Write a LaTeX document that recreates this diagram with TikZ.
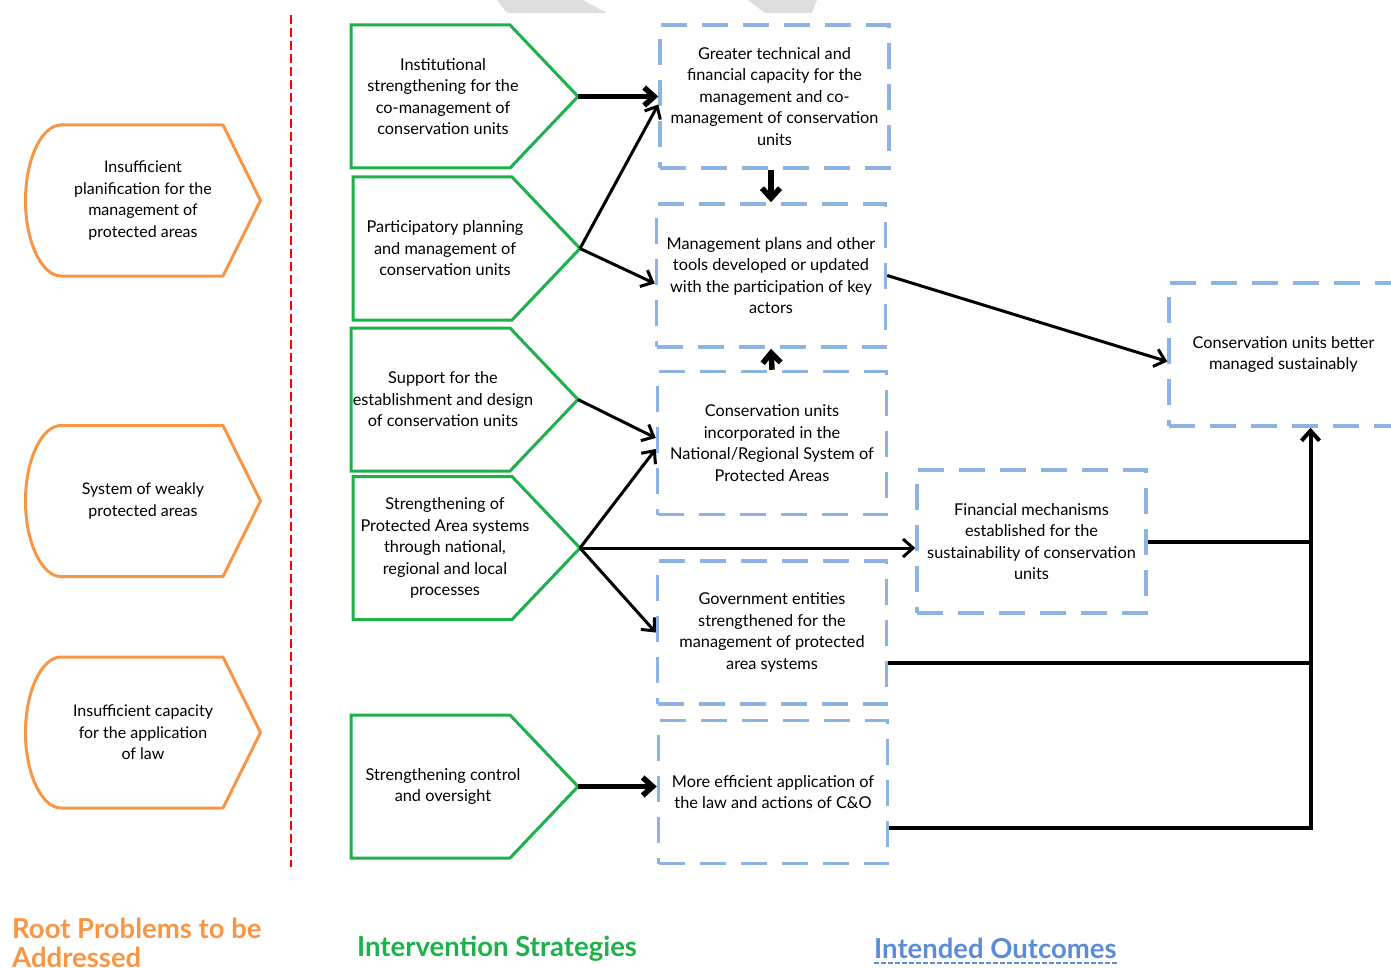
\documentclass[tikz,border=0pt]{standalone}
\usepackage{fontspec}
\setmainfont{Lato}
\usetikzlibrary{
	arrows.meta,
	calc,
	positioning
}
\definecolor{rootorange}{HTML}{F79646}
\definecolor{stratgreen}{HTML}{1DB04B}
\definecolor{outblue}{HTML}{8DB3E2}
\definecolor{titleblue}{HTML}{5A8DD8}
\definecolor{markgray}{HTML}{DEDEDE}

% contorno naranja: izquierda redonda, derecha en punta
\newcommand{\rootshape}[1]{%
\draw[rootline] ($(#1)+(-82,-75.5)$) -- ($(#1)+(80,-75.5)$) -- ($(#1)+(117.5,0)$)
	-- ($(#1)+(80,75.5)$) -- ($(#1)+(-82,75.5)$)
	.. controls ($(#1)+(-101,75.5)$) and ($(#1)+(-117.5,42)$) .. ($(#1)+(-117.5,0)$)
	.. controls ($(#1)+(-117.5,-42)$) and ($(#1)+(-101,-75.5)$) .. ($(#1)+(-82,-75.5)$) -- cycle;}
% contorno verde en forma de flecha
\newcommand{\stratshape}[1]{%
\draw[stratline] ($(#1)+(-92,-71.5)$) -- ($(#1)+(67,-71.5)$) -- ($(#1)+(135,0)$)
	-- ($(#1)+(67,71.5)$) -- ($(#1)+(-92,71.5)$) -- cycle;
\coordinate (#1-tip) at ($(#1)+(135,0)$);}

\begin{document}
\begin{tikzpicture}[x=1pt,y=-1pt, every node/.style={align=center, inner sep=0pt},
rootline/.style={draw=rootorange, line width=3pt, line join=round},
stratline/.style={draw=stratgreen, line width=3pt},
root/.style={font=\fontsize{16}{21.5}\selectfont},
strat/.style={font=\fontsize{16.3}{21.5}\selectfont},
outcome/.style={draw=outblue, line width=3.5pt, dash pattern=on 26pt off 15pt,
	minimum width=229pt, minimum height=143pt, font=\fontsize{16.3}{21.5}\selectfont},
link/.style={line width=3pt, -{Straight Barb[length=10pt,width=18pt]}},
bold link/.style={line width=5.5pt},
busline/.style={line width=4pt},
coltitle/.style={font=\fontsize{27.5}{28.5}\selectfont\bfseries}]
\clip (0,0) rectangle (1391,968);

\fill[markgray] (497,0) -- (583,0) -- (607,13) -- (507,13) -- cycle;
\fill[markgray] (748,0) -- (817,0) -- (812,13) -- (765,13) -- cycle;

\draw[red, line width=1.5pt, dash pattern=on 9pt off 4pt] (291,15) -- (291,867);

% problemas de raiz
\node[root] (p1) at (143,200.5) {Insufficient\\planification for the\\management of\\protected areas};
\node[root] (p2) at (143,501) {System of weakly\\protected areas};
\node[root] (p3) at (143,732.5) {Insufficient capacity\\for the application\\of law};
\rootshape{p1} \rootshape{p2} \rootshape{p3}

% estrategias
\node[strat] (s1) at (443,96.5) {Institutional\\strengthening for the\\co-management of\\conservation units};
\node[strat] (s2) at (445,248.5) {Participatory planning\\and management of\\conservation units};
\node[strat] (s3) at (443,399.5) {Support for the\\establishment and design\\of conservation units};
\node[strat] (s4) at (445,548) {Strengthening of\\Protected Area systems\\through national,\\regional and local\\processes};
\node[strat] (s5) at (443,786.5) {Strengthening control\\and oversight};
\stratshape{s1} \stratshape{s2} \stratshape{s3} \stratshape{s4} \stratshape{s5}

% resultados
\node[outcome] (o1) at (774.5,96.5) {Greater technical and\\financial capacity for the\\management and co-\\management of conservation\\units};
\node[outcome] (o2) at (771,275.5) {Management plans and other\\tools developed or updated\\with the participation of key\\actors};
\node[outcome] (o3) at (772,443) {Conservation units\\incorporated in the\\National/Regional System of\\Protected Areas};
\node[outcome] (o4) at (1031.5,541.5) {Financial mechanisms\\established for the\\sustainability of conservation\\units};
\node[outcome] (o5) at (772,632.5) {Government entities\\strengthened for the\\management of protected\\area systems};
\node[outcome] (o6) at (773,792) {More efficient application of\\the law and actions of C\&O};
\node[outcome] (o7) at (1283.5,354.5) {Conservation units better\\managed sustainably};

\path[link] (s1-tip) edge[bold link] (o1)
	(s2-tip) edge ([yshift=-8pt]o1.west)
	(s2-tip) edge ([yshift=-8pt]o2.west)
	(s3-tip) edge ([yshift=5pt]o3.west)
	(s4-tip) edge ([yshift=-6pt]o3.west)
	(s4-tip) edge (s4-tip -| o4.west)
	(s4-tip) edge (o5.west)
	(s5-tip) edge[bold link] (s5-tip -| o6.west)
	(o2.north |- o1.south) edge[bold link] (o2.north)
	(o3.north) edge[bold link] (o2.south)
	(o2.east) edge ([yshift=-7pt]o7.west);

\coordinate (hub) at ($(o7.south)+(27,0)$);
\draw[busline] (o4.east) -- (o4.east -| hub);
\draw[busline] ([yshift=-30pt]o5.east) -- ([yshift=-30pt]o5.east -| hub);
\draw[busline, -{Straight Barb[length=10pt,width=18pt]}] ([yshift=-36pt]o6.east) -| (hub);

% titulos de columna
\node[coltitle, text=rootorange, anchor=north west, align=left] (troot) at (12,918) {Root Problems to be\\Addressed};
\node[coltitle, text=stratgreen, anchor=west] (tstrat) at (357,949) {Intervention Strategies};
\node[coltitle, text=titleblue, anchor=west] (tout) at (874,948) {Intended Outcomes};
\draw[titleblue, line width=1.5pt, dash pattern=on 5pt off 2pt] ($(tout.base west)+(0,5)$) -- ($(tout.base east)+(0,5)$);
\end{tikzpicture}
\end{document}
